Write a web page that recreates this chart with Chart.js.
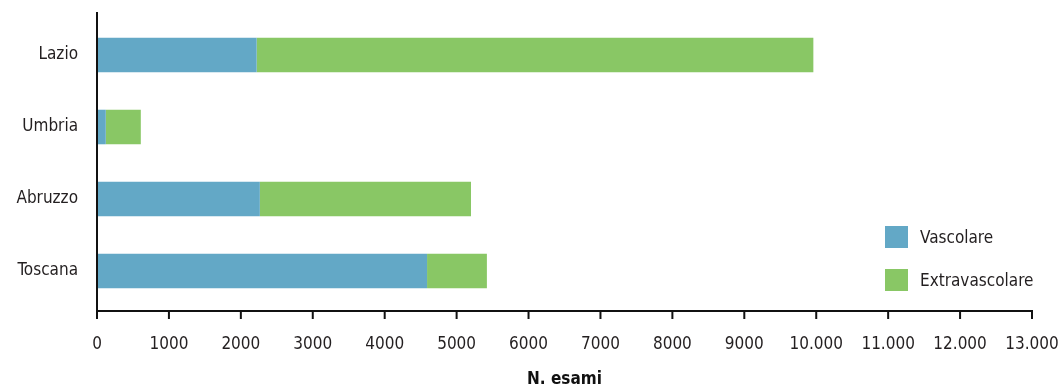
<!DOCTYPE html>
<html lang="it">
<head>
<meta charset="utf-8">
<title>N. esami per regione</title>
<script src="https://cdn.jsdelivr.net/npm/chart.js@4.4.1/dist/chart.umd.min.js"></script>
<style>
  html, body { margin: 0; padding: 0; background: #fff; }
  #wrap { position: relative; width: 1060px; height: 388px; }
  #legend {
    position: absolute; left: 885px; top: 226px;
    font-family: "DejaVu Sans Condensed", "Liberation Sans", sans-serif;
    font-size: 17px; color: #231f20;
  }
  .item { display: flex; align-items: center; height: 22px; margin-bottom: 21px; white-space: nowrap; }
  .sw { width: 23px; height: 22px; margin-right: 12px; flex: none; }
</style>
</head>
<body>
<div id="wrap">
  <canvas id="chart" width="1060" height="388"></canvas>
  <div id="legend"></div>
</div>
<script>
// Regions and exam counts
const regioni = ['Lazio', 'Umbria', 'Abruzzo', 'Toscana'];
const vascolare = [2220, 122, 2264, 4589];
const extravascolare = [7740, 487, 2936, 832];

// X axis tick labels (thousands separator only from 10.000 up)
const xTickLabels = ['0', '1000', '2000', '3000', '4000', '5000', '6000', '7000', '8000', '9000',
                     '10.000', '11.000', '12.000', '13.000'];

const serie = [
  { label: 'Vascolare', data: vascolare, color: '#63a8c6' },
  { label: 'Extravascolare', data: extravascolare, color: '#89c765' }
];

const FONT = '"DejaVu Sans Condensed", "Liberation Sans", sans-serif';
const TEXT = '#231f20';

// Axis lines and tick marks, extended slightly past the plot area
const axisLines = {
  id: 'axisLines',
  afterDraw(chart) {
    const { ctx, chartArea: a, scales: { x } } = chart;
    const yB = a.bottom + 4;
    const yT = a.top - 7;
    ctx.save();
    ctx.strokeStyle = '#111';
    ctx.lineWidth = 2;
    ctx.beginPath();
    ctx.moveTo(a.left, yT);
    ctx.lineTo(a.left, yB);
    ctx.lineTo(x.getPixelForValue(x.max) + 1, yB);
    x.ticks.forEach(t => {
      const px = x.getPixelForValue(t.value);
      ctx.moveTo(px, yB);
      ctx.lineTo(px, yB + 8);
    });
    ctx.stroke();
    ctx.restore();
  }
};

new Chart(document.getElementById('chart'), {
  type: 'bar',
  data: {
    labels: regioni,
    datasets: serie.map(s => ({
      label: s.label,
      data: s.data,
      backgroundColor: s.color,
      borderWidth: 0,
      barPercentage: 0.48,
      categoryPercentage: 1
    }))
  },
  options: {
    indexAxis: 'y',
    responsive: false,
    animation: false,
    layout: { padding: { top: 19, right: 28, bottom: 0, left: 0 } },
    plugins: { legend: { display: false }, tooltip: { enabled: false } },
    scales: {
      x: {
        stacked: true,
        min: 0,
        max: 13000,
        grid: { display: false, drawTicks: false },
        border: { display: false },
        ticks: {
          stepSize: 1000,
          autoSkip: false,
          maxRotation: 0,
          padding: 27,
          color: TEXT,
          font: { family: FONT, size: 17 },
          callback: (v, i) => xTickLabels[i]
        },
        title: {
          display: true,
          text: 'N. esami',
          color: '#111',
          padding: 0,
          font: { family: FONT, size: 17, weight: 'bold', lineHeight: 1.0 }
        },
        afterFit(s) { s.height = 81; s.paddingLeft = 0; s.paddingRight = 0; }
      },
      y: {
        stacked: true,
        grid: { display: false, drawTicks: false },
        border: { display: false },
        ticks: { padding: 19, color: TEXT, font: { family: FONT, size: 17 } },
        afterFit(s) { s.width = 97; s.paddingTop = 0; s.paddingBottom = 0; }
      }
    }
  },
  plugins: [axisLines]
});

// Legend
const legend = document.getElementById('legend');
serie.forEach(s => {
  const item = document.createElement('div');
  item.className = 'item';
  const sw = document.createElement('span');
  sw.className = 'sw';
  sw.style.background = s.color;
  const txt = document.createElement('span');
  txt.textContent = s.label;
  item.appendChild(sw);
  item.appendChild(txt);
  legend.appendChild(item);
});
</script>
</body>
</html>
